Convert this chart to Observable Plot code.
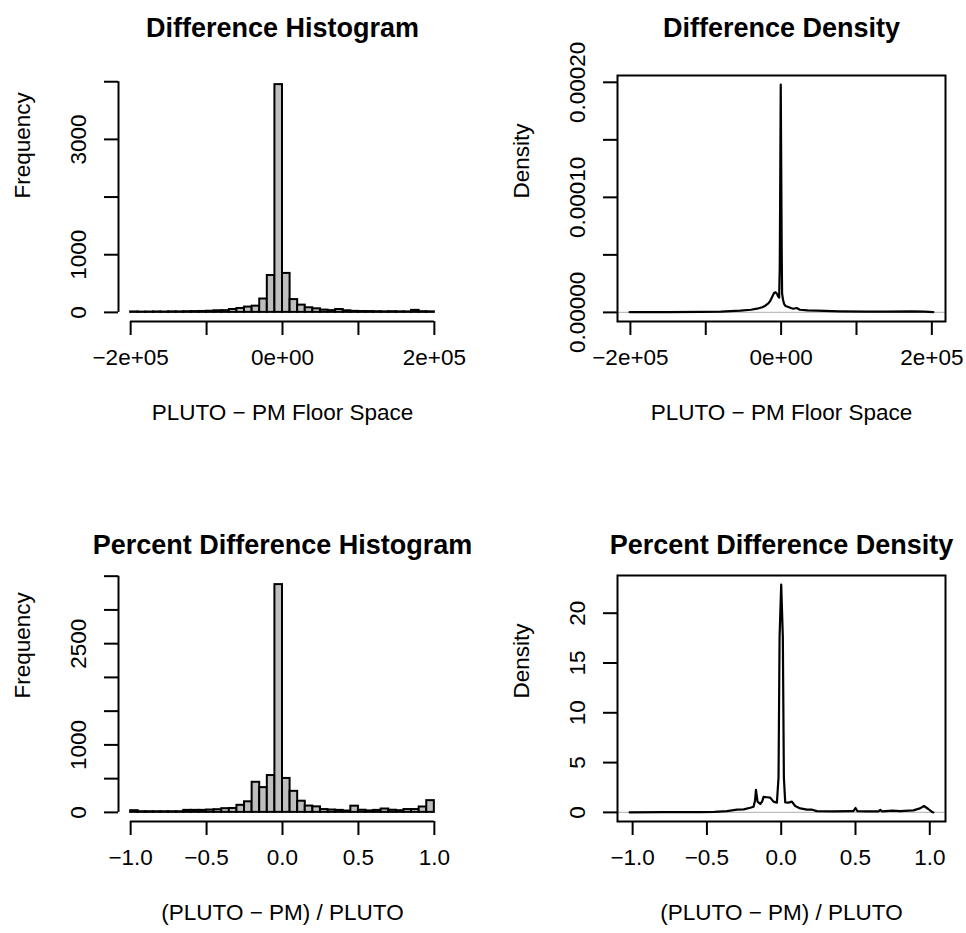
<!DOCTYPE html>
<html><head><meta charset="utf-8">
<script src="https://cdn.jsdelivr.net/npm/d3@7"></script>
<script src="https://cdn.jsdelivr.net/npm/@observablehq/plot@0.6"></script>
<style>
body{margin:0;background:#fff;}
#wrap{position:relative;width:966px;height:933px;background:#fff;overflow:hidden}
#wrap svg{position:absolute;}
</style></head><body><div id="wrap"></div>
<script>
// ---------- data ----------
const diffBinStart = -200000, diffBinWidth = 10000;
const diffCounts = [8, 5, 6, 8, 6, 10, 9, 12, 14, 16, 20, 28, 30, 50, 68, 92, 108, 232, 640, 3950,
                    676, 222, 126, 80, 62, 40, 30, 50, 28, 18, 15, 14, 12, 10, 12, 10, 9, 35, 12, 10];
const pctBinStart = -1, pctBinWidth = 0.05;
const pctCounts = [25, 10, 10, 10, 10, 10, 10, 30, 30, 30, 35, 40, 55, 58, 105, 157, 446, 367, 546, 3375,
                   503, 312, 166, 94, 82, 42, 35, 30, 20, 92, 32, 22, 30, 50, 32, 25, 42, 42, 80, 174];

const diffDensX = [-201000, -150000, -106600, -80000, -54000, -40000, -32000, -25000, -21000, -17000, -14500, -11500, -9200, -7500, -5700, -4000, -2600, -1800, -500, 700, 1300, 2500, 3900, 6000, 9600, 13000, 16000, 20600, 25000, 35000, 47000, 77600, 112800, 140000, 174000, 190000, 202000];
const diffDensY = [0.2e-6, 0.3e-6, 0.4e-6, 0.7e-6, 1.5e-6, 2.3e-6, 3.2e-6, 4.5e-6, 5.8e-6, 7.8e-6, 9.9e-6, 14e-6, 17.1e-6, 17.5e-6, 16.3e-6, 14e-6, 12.8e-6, 40e-6, 198e-6, 60e-6, 16.3e-6, 11e-6, 7.5e-6, 5.5e-6, 4.6e-6, 3.8e-6, 3.2e-6, 3.8e-6, 2.3e-6, 1.8e-6, 1.5e-6, 0.9e-6, 0.6e-6, 0.7e-6, 0.9e-6, 0.6e-6, 0.3e-6];

const pctDensX = [-1.02, -0.8, -0.544, -0.45, -0.365, -0.298, -0.253, -0.208, -0.186, -0.176, -0.170, -0.163, -0.159, -0.141, -0.128, -0.119, -0.096, -0.074, -0.052, -0.029, -0.018, -0.011, 0.0, 0.011, 0.018, 0.027, 0.049, 0.072, 0.094, 0.128, 0.173, 0.208, 0.24, 0.35, 0.464, 0.486, 0.5, 0.513, 0.576, 0.654, 0.667, 0.68, 0.75, 0.8, 0.889, 0.934, 0.961, 0.99, 1.013, 1.024];
const pctDensY = [0, 0.02, 0.03, 0.06, 0.13, 0.27, 0.3, 0.47, 0.57, 1.2, 2.26, 1.5, 1.08, 0.84, 1.1, 1.55, 1.52, 1.48, 1.08, 0.98, 3.5, 17.6, 22.87, 17.6, 3.5, 1.0, 0.98, 1.08, 0.64, 0.4, 0.27, 0.27, 0.13, 0.1, 0.13, 0.13, 0.44, 0.13, 0.1, 0.1, 0.24, 0.1, 0.17, 0.13, 0.2, 0.4, 0.64, 0.34, 0.07, 0];

const diffXTicks = [-200000, -100000, 0, 100000, 200000];
const diffXLabels = ["\u22122e+05", "", "0e+00", "", "2e+05"];
const pctXTicks = [-1, -0.5, 0, 0.5, 1];
const pctXLabels = ["\u22121.0", "\u22120.5", "0.0", "0.5", "1.0"];
const histDiffYTicks = [0, 1000, 2000, 3000, 4000];
const histDiffYLabels = ["0", "1000", "", "3000", ""];
const histPctYTicks = [0, 500, 1000, 1500, 2000, 2500, 3000, 3500];
const histPctYLabels = ["0", "", "1000", "", "", "2500", "", ""];
const densDiffYTicks = [0, 0.00005, 0.0001, 0.00015, 0.0002];
const densDiffYLabels = ["0.00000", "", "0.00010", "", "0.00020"];
const densPctYTicks = [0, 5, 10, 15, 20];
const densPctYLabels = ["0", "5", "10", "15", "20"];

// ---------- helpers ----------
const FONT = "'Liberation Sans', Arial, Helvetica, sans-serif";
const FS = 22.5, TFS = 27;
const wrap = document.getElementById("wrap");

function bins(start, width, counts) {
  return counts.map((c, i) => ({x1: start + i * width, x2: start + (i + 1) * width, count: c}));
}
function pad(lo, hi) { const r = hi - lo; return [lo - 0.04 * r, hi + 0.04 * r]; }

function panel(o) {
  const xmap = new Map(o.xTicks.map((t, i) => [t, o.xTickLabels[i]]));
  const ymap = new Map(o.yTicks.map((t, i) => [t, o.yTickLabels[i]]));
  const svg = Plot.plot({
    width: 467, height: 433,
    marginLeft: 118, marginRight: 21, marginTop: 75, marginBottom: 112,
    style: {fontFamily: FONT, fontSize: FS + "px", background: "white", overflow: "visible", color: "black"},
    x: {domain: o.xDomain},
    y: {domain: o.yDomain},
    marks: [
      ...o.marks,
      Plot.axisX({ticks: o.xTicks, tickFormat: d => xmap.get(d) ?? "", tickSize: 14, tickPadding: 14, fontSize: FS, strokeWidth: 2, label: null}),
      Plot.axisY({ticks: o.yTicks, tickFormat: d => ymap.get(d) ?? "", tickSize: 14, tickPadding: 19, tickRotate: -90, fontSize: FS, strokeWidth: 2, label: null}),
      Plot.text([o.title], {text: d => d, frameAnchor: "top", dy: o.titleDy, fontSize: TFS, fontWeight: "bold", lineAnchor: "middle"}),
      Plot.text([o.xLabel], {text: d => d, frameAnchor: "bottom", dy: 91, fontSize: FS, lineAnchor: "middle"}),
      Plot.text([o.yLabel], {text: d => d, frameAnchor: "left", dx: -96, rotate: -90, fontSize: FS, lineAnchor: "middle"})
    ]
  });
  svg.style.left = o.left + "px";
  svg.style.top = o.top + "px";
  wrap.appendChild(svg);
}

function histMarks(data, xTicks, yTicks, xDomain, yDomain) {
  return [
    Plot.rect(data, {x1: "x1", x2: "x2", y1: 0, y2: "count", fill: "#bebebe", stroke: "black", strokeWidth: 2}),
    Plot.ruleX([xDomain[0]], {y1: yTicks[0], y2: yTicks[yTicks.length - 1], strokeWidth: 2}),
    Plot.ruleY([yDomain[0]], {x1: xTicks[0], x2: xTicks[xTicks.length - 1], strokeWidth: 2})
  ];
}
function densMarks(xs, ys) {
  const pts = xs.map((x, i) => ({x, y: ys[i]}));
  return [
    Plot.ruleY([0], {stroke: "#bebebe", strokeWidth: 1.2}),
    Plot.line(pts, {x: "x", y: "y", stroke: "black", strokeWidth: 2.2}),
    Plot.frame({stroke: "black", strokeWidth: 2})
  ];
}

// ---------- panels ----------
{
  const data = bins(diffBinStart, diffBinWidth, diffCounts);
  const xDomain = pad(data[0].x1, data[data.length - 1].x2);
  const yDomain = pad(0, d3.max(diffCounts));
  panel({left: 0, top: 0, title: "Difference Histogram", titleDy: -47,
    xLabel: "PLUTO \u2212 PM Floor Space", yLabel: "Frequency",
    xDomain, yDomain, xTicks: diffXTicks, xTickLabels: diffXLabels,
    yTicks: histDiffYTicks, yTickLabels: histDiffYLabels,
    marks: histMarks(data, diffXTicks, histDiffYTicks, xDomain, yDomain)});
}
{
  const xDomain = pad(diffDensX[0], diffDensX[diffDensX.length - 1]);
  const yDomain = pad(0, d3.max(diffDensY));
  panel({left: 499, top: 0, title: "Difference Density", titleDy: -47,
    xLabel: "PLUTO \u2212 PM Floor Space", yLabel: "Density",
    xDomain, yDomain, xTicks: diffXTicks, xTickLabels: diffXLabels,
    yTicks: densDiffYTicks, yTickLabels: densDiffYLabels,
    marks: densMarks(diffDensX, diffDensY)});
}
{
  const data = bins(pctBinStart, pctBinWidth, pctCounts);
  const xDomain = pad(data[0].x1, data[data.length - 1].x2);
  const yDomain = pad(0, d3.max(pctCounts));
  panel({left: 0, top: 500, title: "Percent Difference Histogram", titleDy: -30,
    xLabel: "(PLUTO \u2212 PM) / PLUTO", yLabel: "Frequency",
    xDomain, yDomain, xTicks: pctXTicks, xTickLabels: pctXLabels,
    yTicks: histPctYTicks, yTickLabels: histPctYLabels,
    marks: histMarks(data, pctXTicks, histPctYTicks, xDomain, yDomain)});
}
{
  const xDomain = pad(pctDensX[0], pctDensX[pctDensX.length - 1]);
  const yDomain = pad(0, d3.max(pctDensY));
  panel({left: 499, top: 500, title: "Percent Difference Density", titleDy: -30,
    xLabel: "(PLUTO \u2212 PM) / PLUTO", yLabel: "Density",
    xDomain, yDomain, xTicks: pctXTicks, xTickLabels: pctXLabels,
    yTicks: densPctYTicks, yTickLabels: densPctYLabels,
    marks: densMarks(pctDensX, pctDensY)});
}
</script></body></html>
